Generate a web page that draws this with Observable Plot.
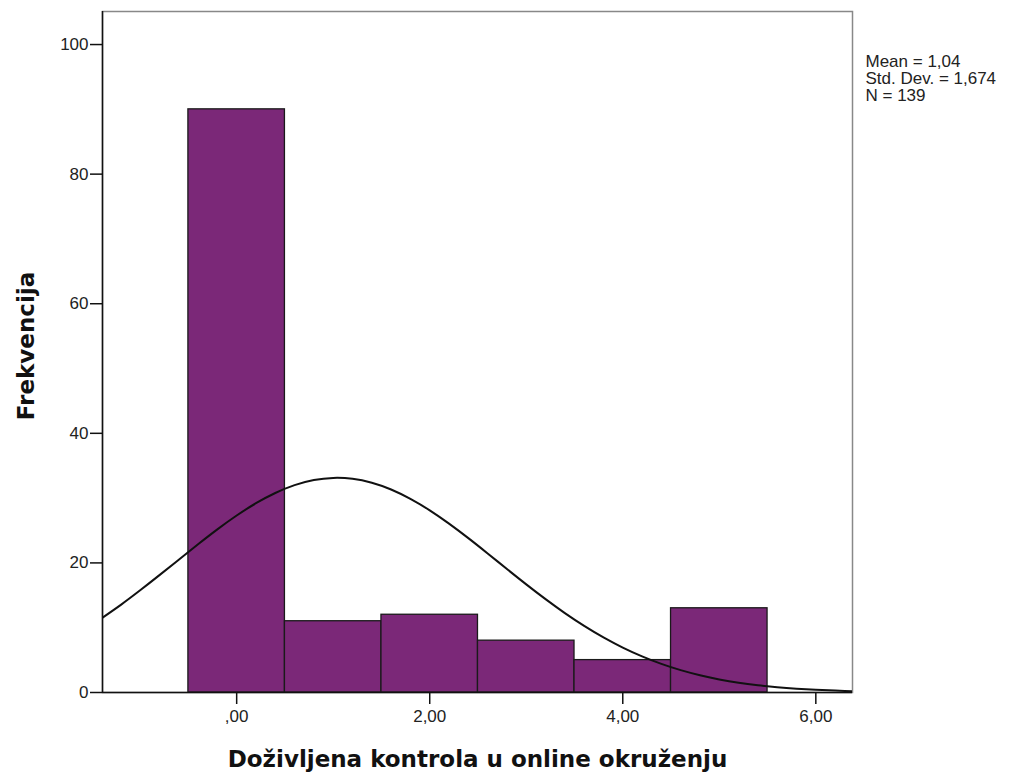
<!DOCTYPE html>
<html>
<head>
<meta charset="utf-8">
<script src="https://cdn.jsdelivr.net/npm/d3@7"></script>
<script src="https://cdn.jsdelivr.net/npm/@observablehq/plot@0.6"></script>
<style>
  html, body { margin: 0; padding: 0; background: #fff; }
</style>
</head>
<body>
<div id="chart"></div>
<script>
// Histogram bins (lower edge, upper edge) and frequencies
const binStart = [-0.5, 0.5, 1.5, 2.5, 3.5, 4.5];
const binEnd   = [0.5, 1.5, 2.5, 3.5, 4.5, 5.5];
const counts   = [90, 11, 12, 8, 5, 13];

// Normal curve
const curveX = [-1.4,-1.2,-1.0,-0.8,-0.6,-0.4,-0.2,0.0,0.2,0.4,0.6,0.8,1.0,1.2,1.4,1.6,1.8,2.0,2.2,2.4,2.6,2.8,3.0,3.2,3.4,3.6,3.8,4.0,4.2,4.4,4.6,4.8,5.0,5.2,5.4,5.6,5.8,6.0,6.2,6.4];
const curveY = [11.45,13.53,15.77,18.11,20.50,22.88,25.18,27.31,29.21,30.79,32.00,32.79,33.12,32.98,32.37,31.33,29.88,28.11,26.06,23.82,21.46,19.06,16.69,14.41,12.26,10.29,8.51,6.94,5.58,4.42,3.45,2.66,2.02,1.51,1.12,0.81,0.58,0.41,0.29,0.20];

const xTicks = [0, 2, 4, 6];
const xTickLabels = [",00", "2,00", "4,00", "6,00"];
const yTicks = [0, 20, 40, 60, 80, 100];

const statsText = ["Mean = 1,04\nStd. Dev. = 1,674\nN = 139"];
const xLabel = ["Doživljena kontrola u online okruženju"];
const yLabel = ["Frekvencija"];

const bins = binStart.map((s, i) => ({x1: s, x2: binEnd[i], count: counts[i]}));
const curve = curveX.map((x, i) => ({x, y: curveY[i]}));

const xmin = -1.39, xmax = 6.38;

const chart = Plot.plot({
  width: 1021,
  height: 775,
  marginLeft: 102,
  marginRight: 169,
  marginTop: 11,
  marginBottom: 83,
  style: {fontFamily: "'Liberation Sans', Arial, sans-serif", fontSize: "17px", color: "#000", background: "#fff"},
  x: {domain: [xmin, xmax]},
  y: {domain: [0, 105.1]},
  marks: [
    Plot.frame({stroke: "#888", strokeWidth: 1.5}),
    Plot.rect(bins, {x1: "x1", x2: "x2", y1: 0, y2: "count", fill: "#7B2878", stroke: "#1a1a1a", strokeWidth: 1.3}),
    Plot.line(curve, {x: "x", y: "y", curve: "natural", stroke: "#111", strokeWidth: 2, clip: true}),
    Plot.ruleY([0], {stroke: "#111", strokeWidth: 1.5}),
    Plot.ruleX([xmin], {stroke: "#111", strokeWidth: 1.5}),
    Plot.axisY({ticks: yTicks, tickSize: 12, tickPadding: 2, label: null, stroke: "#111", strokeWidth: 1.5, fill: "#222", fontSize: 17}),
    Plot.axisX({ticks: xTicks, tickSize: 12, tickPadding: 5, label: null, stroke: "#111", strokeWidth: 1.5, fill: "#222", fontSize: 17,
      tickFormat: d => xTickLabels[xTicks.indexOf(d)]}),
    Plot.text(statsText, {frameAnchor: "top-right", dx: 13, dy: 43, textAnchor: "start", lineAnchor: "top", lineHeight: 1.0, fontSize: 17, fill: "#222"}),
    Plot.text(xLabel, {frameAnchor: "bottom", dy: 67, textAnchor: "middle", lineAnchor: "middle", fontSize: 23, fontWeight: "bold", fontFamily: "'DejaVu Sans', sans-serif", fill: "#111"}),
    Plot.text(yLabel, {frameAnchor: "left", dx: -76, dy: -6, rotate: -90, textAnchor: "middle", lineAnchor: "middle", fontSize: 23, fontWeight: "bold", fontFamily: "'DejaVu Sans', sans-serif", fill: "#111"})
  ]
});
document.getElementById("chart").appendChild(chart);
</script>
</body>
</html>
